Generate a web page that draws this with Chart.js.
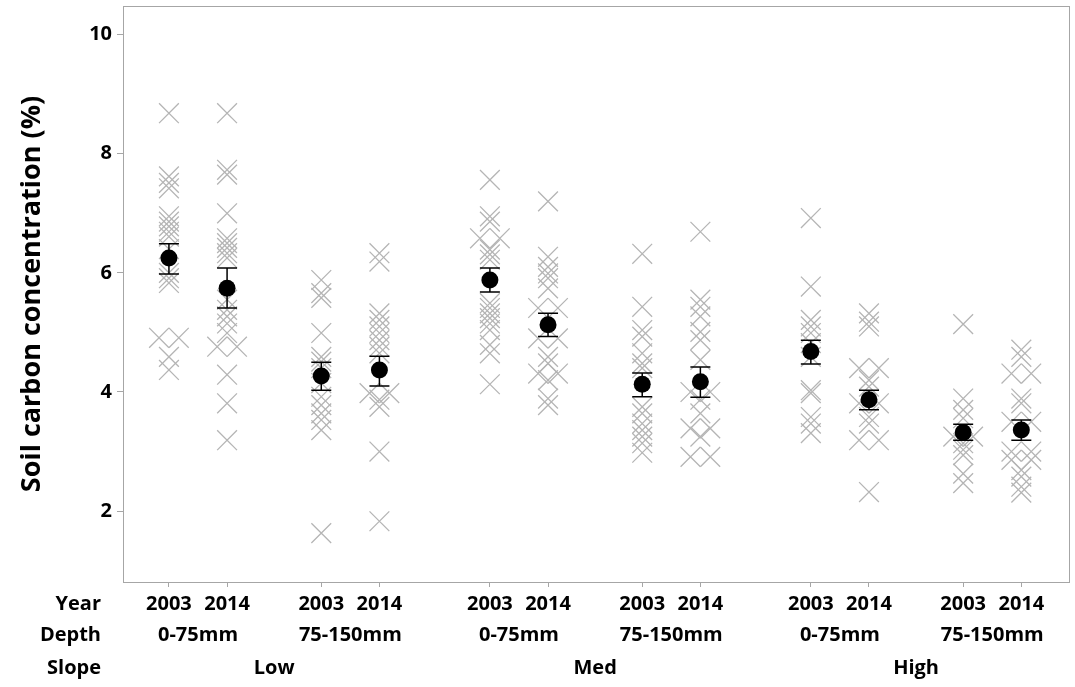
<!DOCTYPE html>
<html>
<head>
<meta charset="utf-8">
<script src="https://cdn.jsdelivr.net/npm/chart.js@4.4.1/dist/chart.umd.min.js"></script>
<style>
  html, body { margin: 0; padding: 0; background: #fff; }
  #wrap { width: 1075px; height: 687px; }
</style>
</head>
<body>
<div id="wrap"><canvas id="chart" width="1075" height="687"></canvas></div>
<script>
// tick labels for the three rows under the plot
const years  = ['2003', '2014', '2003', '2014', '2003', '2014', '2003', '2014', '2003', '2014', '2003', '2014'];
const depths = ['0-75mm', '75-150mm', '0-75mm', '75-150mm', '0-75mm', '75-150mm'];
const slopes = ['Low', 'Med', 'High'];
const yTicks = [2, 4, 6, 8, 10];

// individual samples per group (Slope / Depth / Year)
const lowTop2003  = [8.68, 7.62, 7.51, 7.42, 6.95, 6.86, 6.78, 6.69, 6.61, 6.4, 6.0, 5.91, 5.83, 4.91, 4.91, 4.59, 4.37];
const lowTop2014  = [8.68, 7.73, 7.65, 7.0, 6.58, 6.5, 6.42, 6.33, 6.25, 5.55, 5.38, 5.27, 5.15, 4.99, 4.76, 4.76, 4.29, 3.81, 3.19];
const lowSub2003  = [5.88, 5.66, 5.58, 4.99, 4.59, 4.51, 4.4, 4.15, 3.92, 3.78, 3.64, 3.53, 3.36, 1.63];
const lowSub2014  = [6.33, 6.19, 5.32, 5.21, 5.1, 4.99, 4.87, 4.76, 4.65, 3.98, 3.98, 3.87, 3.75, 3.0, 1.83];
const medTop2003  = [7.56, 6.95, 6.86, 6.58, 6.58, 6.39, 6.31, 6.22, 5.49, 5.41, 5.32, 5.24, 5.15, 5.04, 4.79, 4.65, 4.13];
const medTop2014  = [7.2, 6.27, 6.1, 5.99, 5.91, 5.74, 5.41, 5.41, 4.9, 4.9, 4.59, 4.48, 4.31, 4.31, 4.2, 3.89, 3.78];
const medSub2003  = [6.32, 5.43, 5.04, 4.93, 4.65, 4.48, 4.4, 3.75, 3.64, 3.47, 3.36, 3.25, 3.14, 2.98];
const medSub2014  = [6.69, 5.55, 5.43, 5.27, 5.01, 4.87, 4.54, 4.0, 4.0, 3.87, 3.64, 3.39, 3.39, 3.25, 2.91, 2.91];
const highTop2003 = [6.92, 5.77, 5.21, 5.1, 4.99, 4.82, 4.59, 4.03, 3.98, 3.58, 3.47, 3.31];
const highTop2014 = [5.32, 5.18, 5.1, 4.4, 4.4, 4.2, 4.09, 3.81, 3.81, 3.58, 3.47, 3.19, 3.19, 2.32];
const highSub2003 = [5.14, 3.89, 3.7, 3.56, 3.25, 3.25, 3.14, 3.03, 2.94, 2.63, 2.47];
const highSub2014 = [4.71, 4.59, 4.31, 4.31, 3.89, 3.81, 3.5, 3.5, 3.0, 3.0, 2.86, 2.86, 2.69, 2.58, 2.41, 2.31];

// group means and standard error bar ends
const means   = [6.25, 5.74, 4.27, 4.37, 5.88, 5.13, 4.13, 4.17, 4.68, 3.87, 3.32, 3.36];
const errHigh = [6.49, 6.08, 4.50, 4.60, 6.08, 5.32, 4.32, 4.42, 4.87, 4.03, 3.46, 3.53];
const errLow  = [5.98, 5.41, 4.03, 4.10, 5.68, 4.93, 3.92, 3.91, 4.47, 3.70, 3.19, 3.19];

const groups = [lowTop2003, lowTop2014, lowSub2003, lowSub2014, medTop2003, medTop2014,
                medSub2003, medSub2014, highTop2003, highTop2014, highSub2003, highSub2014];

// layout of the categorical axis (in year-step units)
const DEPTH_GAP = 1.62, SLOPE_GAP = 1.9, JITTER = 0.17;
const xPos = [];
let cur = 0;
for (let i = 0; i < 12; i++) {
  xPos.push(cur);
  if (i % 4 === 3) cur += SLOPE_GAP;
  else if (i % 2 === 1) cur += DEPTH_GAP;
  else cur += 1;
}
const depthPos = depths.map((_, i) => (xPos[2 * i] + xPos[2 * i + 1]) / 2);
const slopePos = slopes.map((_, i) => (xPos[4 * i] + xPos[4 * i + 3]) / 2);

// samples; tied values get a small side-by-side offset
const samplePts = [];
groups.forEach((vals, g) => {
  const seen = {};
  vals.forEach(v => {
    const k = v.toFixed(2);
    const n = seen[k] = (seen[k] || 0) + 1;
    const count = vals.filter(w => w.toFixed(2) === k).length;
    let dx = 0;
    if (count > 1) dx = (n === 1 ? -JITTER : JITTER);
    samplePts.push({ x: xPos[g] + dx, y: v });
  });
});
const meanPts = means.map((m, g) => ({ x: xPos[g], y: m }));

const FONT = "'Open Sans', 'Noto Sans', sans-serif";
const GREY = '#a6a6a6';
const ROW_PAD = 7;

const errorBars = {
  id: 'errorBars',
  afterDatasetsDraw(chart) {
    const { ctx, scales: { x, y } } = chart;
    ctx.save();
    ctx.strokeStyle = '#000';
    ctx.lineWidth = 1.5;
    means.forEach((m, g) => {
      const px = x.getPixelForValue(xPos[g]);
      const top = y.getPixelForValue(errHigh[g]);
      const bot = y.getPixelForValue(errLow[g]);
      ctx.beginPath();
      ctx.moveTo(px, top); ctx.lineTo(px, bot);
      ctx.moveTo(px - 10, top); ctx.lineTo(px + 10, top);
      ctx.moveTo(px - 10, bot); ctx.lineTo(px + 10, bot);
      ctx.stroke();
    });
    ctx.restore();
  }
};

const frame = {
  id: 'frame',
  afterDraw(chart) {
    const { ctx, chartArea: a } = chart;
    ctx.save();
    ctx.strokeStyle = GREY;
    ctx.lineWidth = 1;
    ctx.strokeRect(Math.round(a.left) + 0.5, Math.round(a.top) + 0.5,
                   Math.round(a.right - a.left), Math.round(a.bottom - a.top));
    // row headers
    ctx.fillStyle = '#000';
    ctx.font = 'bold 20px ' + FONT;
    ctx.textAlign = 'right';
    ctx.textBaseline = 'middle';
    const rows = [['Year', 'x', 10], ['Depth', 'depth', ROW_PAD], ['Slope', 'slope', ROW_PAD]];
    rows.forEach(([txt, id, off]) => {
      const s = chart.scales[id];
      ctx.fillText(txt, 101, s.top + off + 12);
    });
    ctx.restore();
  }
};

const tickFont = { family: FONT, size: 20, weight: 'bold' };

new Chart(document.getElementById('chart'), {
  type: 'scatter',
  data: {
    datasets: [
      {
        data: samplePts,
        pointStyle: 'crossRot',
        pointRadius: 14,
        pointBorderColor: '#b5b5b5',
        pointBorderWidth: 1.3,
        pointBackgroundColor: 'rgba(0,0,0,0)',
        order: 2
      },
      {
        data: meanPts,
        pointStyle: 'circle',
        pointRadius: 8.5,
        pointBackgroundColor: '#000',
        pointBorderColor: '#000',
        pointBorderWidth: 0,
        order: 1
      }
    ]
  },
  options: {
    responsive: false,
    animation: false,
    events: [],
    layout: { autoPadding: false, padding: { top: 6, right: 6, left: 0, bottom: 0 } },
    plugins: { legend: { display: false }, tooltip: { enabled: false } },
    scales: {
      x: {
        type: 'linear', position: 'bottom', weight: 0,
        min: -0.79, max: 15.48,
        grid: { drawOnChartArea: false, drawTicks: true, tickLength: 5, color: GREY },
        border: { color: GREY },
        afterBuildTicks: s => { s.ticks = xPos.map(v => ({ value: v })); },
        afterFit: s => { s.height = 34; s.paddingLeft = 0; s.paddingRight = 0; },
        ticks: {
          autoSkip: false, maxRotation: 0, padding: 5, color: '#000', font: tickFont,
          callback: (v, i) => years[i]
        }
      },
      depth: {
        type: 'linear', axis: 'x', position: 'bottom', weight: 1,
        min: -0.79, max: 15.48,
        grid: { display: false, drawTicks: false }, border: { display: false },
        afterBuildTicks: s => { s.ticks = depthPos.map(v => ({ value: v })); },
        afterFit: s => { s.height = 33; s.paddingLeft = 0; s.paddingRight = 0; },
        ticks: {
          autoSkip: false, maxRotation: 0, padding: ROW_PAD, color: '#000', font: tickFont,
          callback: (v, i) => depths[i]
        }
      },
      slope: {
        type: 'linear', axis: 'x', position: 'bottom', weight: 2,
        min: -0.79, max: 15.48,
        grid: { display: false, drawTicks: false }, border: { display: false },
        afterBuildTicks: s => { s.ticks = slopePos.map(v => ({ value: v })); },
        afterFit: s => { s.height = 38; s.paddingLeft = 0; s.paddingRight = 0; },
        ticks: {
          autoSkip: false, maxRotation: 0, padding: ROW_PAD, color: '#000', font: tickFont,
          callback: (v, i) => slopes[i]
        }
      },
      y: {
        type: 'linear', min: 0.81, max: 10.48,
        grid: { drawOnChartArea: false, drawTicks: true, tickLength: 6, color: GREY },
        border: { color: GREY },
        afterBuildTicks: s => { s.ticks = yTicks.map(v => ({ value: v })); },
        afterFit: s => { s.width = 123; s.paddingTop = 0; s.paddingBottom = 0; },
        ticks: { padding: 5, color: '#000', font: tickFont },
        title: {
          display: true, text: 'Soil carbon concentration (%)', color: '#000',
          font: { family: FONT, size: 27, weight: 'bold' }, padding: { top: 16, bottom: 0 }
        }
      }
    }
  },
  plugins: [errorBars, frame]
});
</script>
</body>
</html>
